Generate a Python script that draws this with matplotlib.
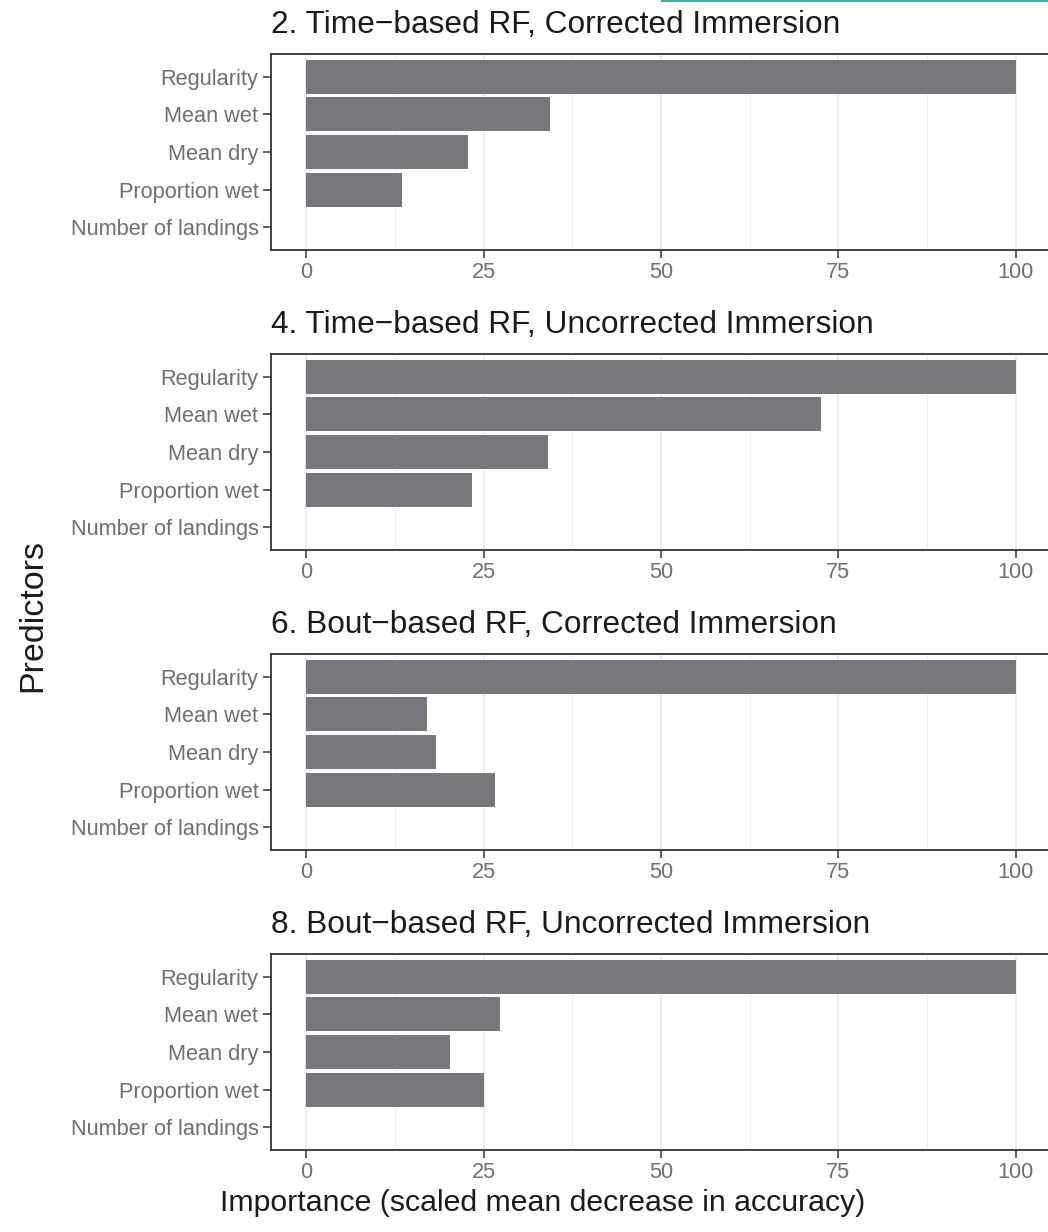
import numpy as np
import matplotlib
matplotlib.use('Agg')
import matplotlib.pyplot as plt
from matplotlib.lines import Line2D

plt.rcParams['font.family'] = ['Liberation Sans', 'DejaVu Sans']

predictors = ['Regularity', 'Mean wet', 'Mean dry', 'Proportion wet', 'Number of landings']
titles = ['2. Time\u2212based RF, Corrected Immersion',
          '4. Time\u2212based RF, Uncorrected Immersion',
          '6. Bout\u2212based RF, Corrected Immersion',
          '8. Bout\u2212based RF, Uncorrected Immersion']
# importance values, same order as predictors
imp_time_corr = [100, 34.3, 22.8, 13.5, 0]
imp_time_uncorr = [100, 72.5, 34.1, 23.4, 0]
imp_bout_corr = [100, 17.0, 18.3, 26.6, 0]
imp_bout_uncorr = [100, 27.3, 20.3, 25.1, 0]
panels = [imp_time_corr, imp_time_uncorr, imp_bout_corr, imp_bout_uncorr]
xticks = [0, 25, 50, 75, 100]

W, H = 1048, 1232
fig = plt.figure(figsize=(W/100, H/100), dpi=100)

bar_col = '#77787B'
ypos = np.arange(len(predictors))[::-1] + 1  # Regularity at top

for i in range(4):
    top = 54 + 300*i
    ax = fig.add_axes([271/W, 1 - (top + 196)/H, 780/W, 196/H])
    ax.set_xlim(-5, 105)
    ax.set_ylim(0.4, 5.6)
    for g in [12.5, 37.5, 62.5, 87.5]:
        ax.axvline(g, color='#EBEBEB', lw=0.6, zorder=0)
    for g in xticks:
        ax.axvline(g, color='#EBEBEB', lw=1.2, zorder=0)
    ax.barh(ypos, panels[i], height=0.9, color=bar_col, zorder=2)
    ax.set_yticks(ypos)
    ax.set_yticklabels(predictors)
    ax.set_xticks(xticks)
    ax.set_xticklabels([str(t) for t in xticks])
    ax.tick_params(axis='both', labelsize=15.7, colors='#333333', length=5.5, width=1.1,
                   labelcolor='#6E6E6E', pad=3.5)
    for s in ax.spines.values():
        s.set_color('#333333')
        s.set_linewidth(1.3)
    ax.set_title(titles[i], loc='left', fontsize=22.8, color='#1A1A1A', pad=14.8)

fig.text(33/W, 1 - 615/H, 'Predictors', rotation=90, ha='center', va='center',
         fontsize=24.5, color='#1A1A1A')
fig.text(543/W, 1 - 1203/H, 'Importance (scaled mean decrease in accuracy)',
         ha='center', va='center', fontsize=21.8, color='#1A1A1A')

# thin teal rule at the top edge
fig.add_artist(Line2D([662/W, 1.0], [1 - 1/H, 1 - 1/H], color='#3AB39A', lw=1.5))

fig.savefig('out.png', dpi=100)
